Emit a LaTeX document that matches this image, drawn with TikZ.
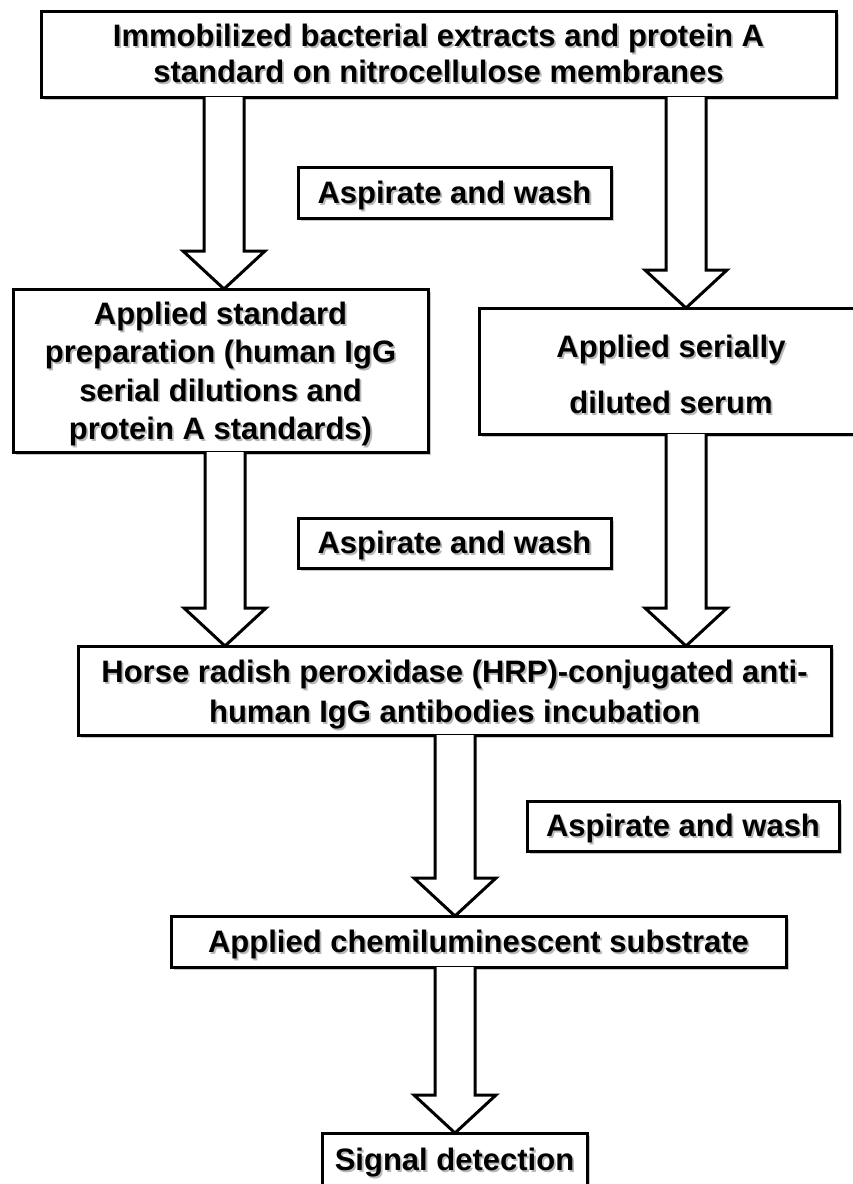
\documentclass[tikz,border=0pt]{standalone}
\usepackage{fontspec}
\setmainfont{Liberation Sans}
\usetikzlibrary{calc,shadows}
\newcommand\shd[1]{\leavevmode\rlap{\hspace{1.8pt}\raisebox{-1.8pt}{\textcolor{black!28}{#1}}}#1}
\newcommand\lowr[1][30]{\rule{0pt}{#1pt}}
\newcommand\blockarrow[3]{%
  \draw[barrow] ($(#1.south -| #3)+(-20,0)$) -- ($(#2.north -| #3)+(-20,-38)$)
    -- ($(#2.north -| #3)+(-41,-38)$) -- (#2.north -| #3)
    -- ($(#2.north -| #3)+(41,-38)$) -- ($(#2.north -| #3)+(20,-38)$)
    -- ($(#1.south -| #3)+(20,0)$);}
\tikzset{
  box/.style={draw, line width=3pt, fill=white, inner sep=0pt, outer sep=0pt,
    align=center,
    drop shadow={shadow xshift=2.5pt, shadow yshift=-2.5pt, opacity=0.22, fill=black}},
  fs/.style={font=\bfseries\fontsize{31}{#1}\selectfont},
  barrow/.style={draw, line width=3pt, line join=miter, fill=white},
}
\begin{document}
\begin{tikzpicture}[x=1pt, y=-1pt]
\clip (0,0) rectangle (853,1184);
\fill[white] (0,0) rectangle (853,1184);
% coordinates for arrow columns
\coordinate (xL) at (224,0);
\coordinate (xL2) at (225,0);
\coordinate (xR) at (686,0);
\coordinate (xC) at (455,0);
% boxes
\node[box, fs=36, minimum width=795pt, minimum height=86pt] (top) at (438.5,54)
  {\lowr[24]\shd{Immobilized bacterial extracts and protein A}\\\shd{standard on nitrocellulose membranes}};
\node[box, fs=31, minimum width=313pt, minimum height=51pt] (asp1) at (454.5,192.5)
  {\lowr\shd{Aspirate and wash}};
\node[box, fs=38.3, minimum width=415pt, minimum height=163pt] (std) at (220.5,370.5)
  {\lowr[31]\shd{Applied standard}\\\shd{preparation (human IgG}\\\shd{serial dilutions and}\\\shd{protein A standards)}};
\node[box, fs=56, minimum width=384pt, minimum height=126pt] (serum) at (671,371)
  {\lowr[31]\shd{Applied serially}\\\shd{diluted serum}};
\node[box, fs=31, minimum width=313pt, minimum height=50pt] (asp2) at (454.5,543)
  {\lowr\shd{Aspirate and wash}};
\node[box, fs=40, minimum width=753pt, minimum height=89pt] (hrp) at (454.5,690.5)
  {\lowr[33]\shd{Horse radish peroxidase (HRP)-conjugated anti-}\\\shd{human IgG antibodies incubation}};
\node[box, fs=31, minimum width=312pt, minimum height=50pt] (asp3) at (683,826)
  {\lowr\shd{Aspirate and wash}};
\node[box, fs=31, minimum width=615pt, minimum height=51pt] (chemi) at (478.5,941.5)
  {\lowr\shd{Applied chemiluminescent substrate}};
\node[box, fs=31, minimum width=265pt, minimum height=53pt] (signal) at (454.5,1159.5)
  {\lowr\shd{Signal detection}};
% block arrows
\blockarrow{top}{std}{xL}
\blockarrow{top}{serum}{xR}
\blockarrow{std}{hrp}{xL2}
\blockarrow{serum}{hrp}{xR}
\blockarrow{hrp}{chemi}{xC}
\blockarrow{chemi}{signal}{xC}
\end{tikzpicture}
\end{document}
